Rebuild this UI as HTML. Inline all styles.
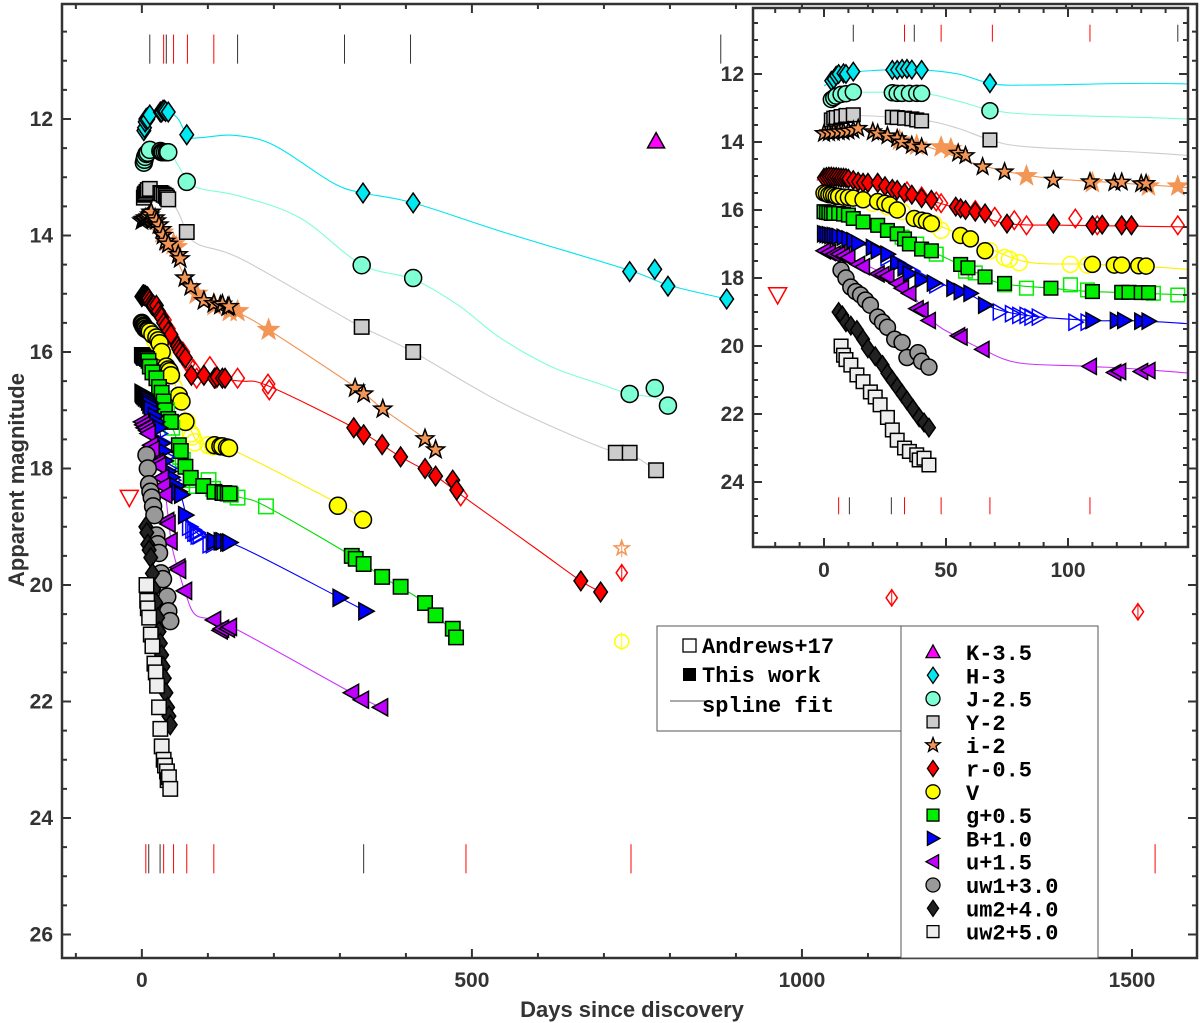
<!DOCTYPE html>
<html><head><meta charset="utf-8"><style>
html,body{margin:0;padding:0;background:#fff;width:1200px;height:1023px;overflow:hidden}
svg{display:block;font-family:"Liberation Sans",Arial,sans-serif}
.tl{font-size:21px;font-weight:bold;fill:#333}
.lg{font-family:"Liberation Mono",monospace;font-size:22px;font-weight:bold;fill:#000}
</style></head><body>
<svg id="chart" width="1200" height="1023" viewBox="0 0 1200 1023" xmlns="http://www.w3.org/2000/svg">
<rect width="1200" height="1023" fill="#fff"/>
<g id="main"></g>
<g id="inset"></g>
<g id="legends"></g>
<text transform="translate(24,480) rotate(-90)" text-anchor="middle" font-size="22" font-weight="bold" fill="#333">Apparent magnitude</text>
<text x="632" y="1017" text-anchor="middle" font-size="22" font-weight="bold" fill="#333">Days since discovery</text>
</svg>
<script>
// ---- data ----
const bandNames=["K","H","J","Y","i","r","V","g","B","u","uw1","um2","uw2"];
const legendLabels=["K-3.5","H-3","J-2.5","Y-2","i-2","r-0.5","V","g+0.5","B+1.0","u+1.5","uw1+3.0","um2+4.0","uw2+5.0"];
const K_days=[779]; const K_mags=[12.38];
const H_days=[3,4,5,6,8,9,12,28,30,32,34,36,40,68,335,411,739,777,797,886];
const H_mags=[12.2,12.15,12.05,12.0,11.98,12.0,11.93,11.88,11.88,11.85,11.85,11.87,11.88,12.27,13.27,13.44,14.62,14.58,14.87,15.09];
const J_days=[3,4,5,7,9,12,28,30,32,35,38,40,68,333,411,739,777,797];
const J_mags=[12.75,12.7,12.65,12.6,12.58,12.53,12.55,12.57,12.57,12.57,12.57,12.57,13.08,14.51,14.73,16.72,16.62,16.92];
const Y_days=[3,4,5,7,9,12,28,30,33,36,38,40,68,333,411,718,739,779];
const Y_mags=[13.35,13.3,13.28,13.25,13.22,13.2,13.27,13.28,13.3,13.32,13.35,13.38,13.94,15.57,16.0,17.73,17.73,18.03];
const i_days=[0,2,4,6,8,10,12,14,20,22,26,30,32,36,40,55,58,65,74,94,109,119,122,130,132,323,336,365,429,445];
const i_mags=[13.75,13.73,13.72,13.7,13.7,13.68,13.65,13.6,13.7,13.75,13.82,13.9,14.0,14.1,14.15,14.33,14.4,14.73,14.88,15.12,15.17,15.2,15.18,15.23,15.22,16.62,16.72,16.98,17.49,17.68];
const i_andDays=[31,38,48,52,83,110,133,145,192];
const i_andMags=[13.95,14.1,14.15,14.2,15.0,15.2,15.3,15.3,15.62];
const r_days=[0,1,2,3,4,5,6,7,8,9,10,12,14,16,18,22,25,28,30,33,36,40,44,54,56,58,62,66,75,94,110,114,122,126,321,336,364,392,429,445,471,477,665,695];
const r_mags=[15.05,15.03,15.02,15.02,15.03,15.03,15.04,15.05,15.05,15.06,15.08,15.12,15.17,15.2,15.2,15.2,15.3,15.38,15.41,15.5,15.55,15.65,15.7,15.9,15.95,16.0,16.05,16.1,16.4,16.4,16.45,16.43,16.45,16.45,17.3,17.42,17.59,17.8,18.0,18.13,18.2,18.37,19.93,20.12];
const r_andDays=[34,40,46,48,62,70,78,83,103,112,145,191,193,483];
const r_andMags=[15.45,15.6,15.75,15.8,16.0,16.2,16.3,16.45,16.25,16.45,16.45,16.55,16.65,18.47];
const V_days=[0,1,2,3,4,5,6,8,10,12,16,22,25,27,30,37,40,42,44,56,60,66,110,119,122,129,132,297,335];
const V_mags=[15.5,15.52,15.55,15.55,15.57,15.6,15.6,15.62,15.63,15.65,15.7,15.75,15.8,15.85,16.0,16.25,16.3,16.33,16.4,16.75,16.85,17.2,17.6,17.62,17.62,17.64,17.65,18.64,18.88];
const V_andDays=[20,26,32,45,48,68,74,76,80,101,108];
const V_andMags=[15.8,15.9,16.05,16.4,16.6,17.2,17.4,17.45,17.55,17.6,17.62];
const g_days=[0,1,2,3,4,6,8,10,12,16,22,26,30,33,35,40,44,56,59,66,74,93,110,122,125,130,133,318,324,336,364,392,429,445,471,476];
const g_mags=[16.05,16.07,16.08,16.1,16.1,16.1,16.12,16.15,16.25,16.35,16.45,16.6,16.7,16.85,17.0,17.15,17.2,17.6,17.7,17.97,18.16,18.3,18.4,18.42,18.42,18.43,18.43,19.5,19.55,19.64,19.86,20.03,20.31,20.52,20.75,20.9];
const g_andDays=[32,38,46,58,62,74,83,101,108,135,145,188];
const g_andMags=[16.8,17.0,17.3,17.8,17.85,18.2,18.3,18.2,18.35,18.45,18.5,18.65];
const B_days=[0,1,2,3,4,5,6,8,10,12,14,20,22,26,30,33,35,40,45,53,56,60,66,110,120,123,130,133,300,339];
const B_mags=[16.7,16.72,16.73,16.75,16.75,16.77,16.78,16.8,16.85,16.9,16.98,17.1,17.2,17.3,17.57,17.7,17.87,18.05,18.15,18.3,18.4,18.45,18.8,19.25,19.25,19.25,19.27,19.27,20.22,20.45];
const B_andDays=[26,30,36,40,46,72,77,80,83,85,88,103,108];
const B_andMags=[17.4,17.55,17.8,18.0,18.2,19.0,19.05,19.1,19.1,19.15,19.15,19.3,19.3];
const u_days=[0,2,4,6,8,10,14,16,22,24,26,30,32,35,38,40,43,55,56,65,109,119,121,130,133,318,333,362];
const u_mags=[17.2,17.25,17.3,17.3,17.35,17.4,17.6,17.67,17.88,17.9,17.95,18.16,18.3,18.45,18.9,18.95,19.25,19.7,19.74,20.1,20.6,20.78,20.75,20.75,20.72,21.85,21.97,22.1];
const uw1_days=[7,9,11,13,15,17,19,22,24,26,29,32,34,38.5,40,43];
const uw1_mags=[17.77,18.0,18.27,18.4,18.5,18.65,18.8,19.15,19.3,19.45,19.8,19.9,20.34,20.2,20.45,20.62];
const um2_days=[6,7.5,9,11,13.5,16,18,21,24,26,28,30,32,34,36.5,39,41,43];
const um2_mags=[19.0,19.1,19.3,19.4,19.53,19.8,20.07,20.3,20.56,20.8,21.0,21.2,21.4,21.6,21.85,22.1,22.25,22.4];
const uw2_days=[7,8,9,11,13.5,16,19,21,23,26,28,30,33,35,38,39,41,43];
const uw2_mags=[20.0,20.27,20.4,20.56,20.85,21.05,21.35,21.5,21.73,22.1,22.47,22.77,23.0,23.1,23.2,23.35,23.3,23.5];
// spline fit knots
const H_splD=[0,10,20,40,55,70,90,140,200,290,335,411,550,739,797,886];
const H_splM=[12.35,12.0,11.9,11.88,12.0,12.3,12.32,12.28,12.45,13.1,13.27,13.44,13.95,14.6,14.85,15.09];
const J_splD=[0,12,40,55,70,90,150,240,333,411,480,542,620,694,739,777,797];
const J_splM=[12.7,12.55,12.57,12.8,13.08,13.2,13.33,13.7,14.5,14.75,15.2,15.75,16.25,16.55,16.72,16.78,16.92];
const Y_splD=[0,12,40,55,68,85,150,290,333,411,550,694,739,779];
const Y_splM=[13.35,13.22,13.35,13.6,13.93,14.15,14.4,15.3,15.57,16.0,16.9,17.63,17.75,18.03];
const i_splD=[0,14,30,45,65,90,120,150,192,323,365,429,445];
const i_splM=[13.75,13.6,13.9,14.2,14.7,15.05,15.2,15.35,15.62,16.6,16.98,17.49,17.68];
const r_splD=[-3,5,15,30,45,60,75,100,150,191,321,392,445,483,600,665,695];
const r_splM=[15.12,15.03,15.15,15.4,15.75,16.05,16.4,16.45,16.5,16.58,17.3,17.8,18.13,18.45,19.4,19.93,20.12];
const V_splD=[0,12,25,35,45,60,70,85,110,150,297,335];
const V_splM=[15.55,15.65,15.85,16.15,16.4,16.85,17.2,17.55,17.6,17.75,18.6,18.88];
const g_splD=[0,12,25,35,45,60,72,93,110,150,188,318,364,429,476];
const g_splM=[16.1,16.25,16.5,17.0,17.25,17.75,18.15,18.3,18.4,18.5,18.65,19.5,19.86,20.31,20.9];
const B_splD=[0,14,25,35,45,60,70,85,110,150,300,339];
const B_splM=[16.75,16.98,17.25,17.85,18.1,18.5,18.9,19.12,19.25,19.35,20.22,20.45];
const u_splD=[0,10,25,35,45,55,65,80,109,150,318,362];
const u_splM=[17.2,17.4,17.9,18.4,19.3,19.74,20.1,20.5,20.6,20.8,21.85,22.1];
// late open detections, upper limit
const lateBands=["i","r","r","r","V"];
const lateDays=[727,727,1136,1509,727];
const lateMags=[19.37,19.79,20.22,20.46,20.97];
const limitDays=[-19]; const limitMags=[18.5];
// spectral epochs
const specTopDays=[12,33,37,48,69,109,145,307,407,877];
const specTopColors=["k","r","k","r","r","r","k","k","k","k"];
const specBotDays=[6,10.4,27.6,33,48,68,109,336,491,741,1154,1535];
const specBotColors=["r","k","k","r","r","r","r","k","r","r","r","r"];
// ticks
const mainXTicks=[0,500,1000,1500];
const mainYTicks=[12,14,16,18,20,22,24,26];
const insetXTicks=[0,50,100];
const insetYTicks=[12,14,16,18,20,22,24];

// ---- style ----
const S={
 K:{sym:"tu",fill:"#ff00ff",line:null},
 H:{sym:"d",fill:"#00e8f0",line:"#00e5ee"},
 J:{sym:"c",fill:"#7fffd4",line:"#7fffd4"},
 Y:{sym:"s",fill:"#cccccc",line:"#cccccc"},
 i:{sym:"star",fill:"#f39555",line:"#f39555"},
 r:{sym:"d",fill:"#ff0000",line:"#ff0000"},
 V:{sym:"c",fill:"#ffff00",line:"#ffee00"},
 g:{sym:"s",fill:"#00ee00",line:"#00dd00"},
 B:{sym:"tr",fill:"#0000ff",line:"#0000ff"},
 u:{sym:"tl",fill:"#bf00ff",line:"#cc33ff"},
 uw1:{sym:"c",fill:"#999999",line:null},
 um2:{sym:"d",fill:"#222222",line:null},
 uw2:{sym:"s",fill:"#eeeeee",line:null}
};
const DATA={K:[K_days,K_mags],H:[H_days,H_mags],J:[J_days,J_mags],Y:[Y_days,Y_mags],i:[i_days,i_mags],r:[r_days,r_mags],V:[V_days,V_mags],g:[g_days,g_mags],B:[B_days,B_mags],u:[u_days,u_mags],uw1:[uw1_days,uw1_mags],um2:[um2_days,um2_mags],uw2:[uw2_days,uw2_mags]};
const AND={i:[i_andDays,i_andMags],r:[r_andDays,r_andMags],V:[V_andDays,V_andMags],g:[g_andDays,g_andMags],B:[B_andDays,B_andMags]};
const SPL={H:[H_splD,H_splM],J:[J_splD,J_splM],Y:[Y_splD,Y_splM],i:[i_splD,i_splM],r:[r_splD,r_splM],V:[V_splD,V_splM],g:[g_splD,g_splM],B:[B_splD,B_splM],u:[u_splD,u_splM]};
const NS="http://www.w3.org/2000/svg";
function mk(tag,attrs,parent){const e=document.createElementNS(NS,tag);for(const k in attrs)e.setAttribute(k,attrs[k]);if(parent)parent.appendChild(e);return e;}

function symPath(sym,x,y,s){
 if(sym==="d")return `M${x},${y-s*1.15}L${x+s*0.8},${y}L${x},${y+s*1.15}L${x-s*0.8},${y}Z`;
 if(sym==="s")return `M${x-s*0.85},${y-s*0.85}h${s*1.7}v${s*1.7}h${-s*1.7}Z`;
 if(sym==="tu")return `M${x},${y-s}L${x+s},${y+s*0.8}L${x-s},${y+s*0.8}Z`;
 if(sym==="td")return `M${x},${y+s}L${x+s},${y-s*0.8}L${x-s},${y-s*0.8}Z`;
 if(sym==="tr")return `M${x+s},${y}L${x-s*0.8},${y-s}L${x-s*0.8},${y+s}Z`;
 if(sym==="tl")return `M${x-s},${y}L${x+s*0.8},${y-s}L${x+s*0.8},${y+s}Z`;
 if(sym==="star"){let p="";for(let k=0;k<10;k++){const a=-Math.PI/2+k*Math.PI/5;const r=k%2?s*0.45:s*1.1;p+=(k?"L":"M")+(x+r*Math.cos(a)).toFixed(1)+","+(y+r*Math.sin(a)).toFixed(1);}return p+"Z";}
 return "";
}
function drawSym(g,sym,x,y,s,fill,stroke,sw){
 if(sym==="c")return mk("circle",{cx:x,cy:y,r:s,fill:fill,stroke:stroke,"stroke-width":sw},g);
 return mk("path",{d:symPath(sym,x,y,s),fill:fill,stroke:stroke,"stroke-width":sw,"stroke-linejoin":"miter"},g);
}
function smooth(pts){
 if(pts.length<2)return "";
 let d=`M${pts[0][0].toFixed(1)},${pts[0][1].toFixed(1)}`;
 for(let k=0;k<pts.length-1;k++){
  const p0=pts[k-1]||pts[k],p1=pts[k],p2=pts[k+1],p3=pts[k+2]||p2;
  const c1=[p1[0]+(p2[0]-p0[0])/6,p1[1]+(p2[1]-p0[1])/6],c2=[p2[0]-(p3[0]-p1[0])/6,p2[1]-(p3[1]-p1[1])/6];
  d+=`C${c1[0].toFixed(1)},${c1[1].toFixed(1)} ${c2[0].toFixed(1)},${c2[1].toFixed(1)} ${p2[0].toFixed(1)},${p2[1].toFixed(1)}`;
 }
 return d;
}

function panel(root,P,id){
 const X=d=>P.x0+(d-P.d0)/(P.d1-P.d0)*(P.x1-P.x0);
 const Y=m=>P.y0+(m-P.m0)/(P.m1-P.m0)*(P.y1-P.y0);
 mk("rect",{x:P.x0,y:P.y0,width:P.x1-P.x0,height:P.y1-P.y0,fill:"#fff"},root);
 const cp=mk("clipPath",{id:id+"clip"},root);mk("rect",{x:P.x0,y:P.y0,width:P.x1-P.x0,height:P.y1-P.y0},cp);
 const g=mk("g",{"clip-path":`url(#${id}clip)`},root);
 specTopDays.forEach((d,k)=>{const l=mk("line",{x1:X(d),x2:X(d),y1:Y(10.55),y2:Y(11.05),stroke:specTopColors[k]==="r"?"#ff0000":"#333","stroke-width":1},g);
  
  });
 specBotDays.forEach((d,k)=>{const l=mk("line",{x1:X(d),x2:X(d),y1:Y(24.45),y2:Y(24.95),stroke:specBotColors[k]==="r"?"#ff0000":"#333","stroke-width":1},g);
  
  });
 for(const b in SPL){const [D,M]=SPL[b];const pth=mk("path",{d:smooth(D.map((d,k)=>[X(d),Y(M[k])])),fill:"none",stroke:S[b].line,"stroke-width":1.1},g);
  
  }
 const sz=P.sz;
 limitDays.forEach((d,k)=>{const e=drawSym(g,"td",X(d),Y(limitMags[k]),9,"none","#ff0000",1.5);
  
  });
 lateDays.forEach((d,k)=>{const b=lateBands[k];const x=X(d),y=Y(lateMags[k]);
  const e=drawSym(g,S[b].sym,x,y,7,"none",S[b].fill,1.5);
  
  
  const eb=mk("line",{x1:x,x2:x,y1:y-9,y2:y+9,stroke:S[b].fill,"stroke-width":1},g);
  
  });
 bandNames.forEach(b=>{
  if(AND[b]){const [D,M]=AND[b];D.forEach((d,k)=>{
   let e;
   if(b==="i")e=drawSym(g,"star",X(d),Y(M[k]),sz+3,S[b].fill,"none",0);
   else e=drawSym(g,S[b].sym,X(d),Y(M[k]),sz,"none",S[b].fill,1.5);
   
   });}
  const [D,M]=DATA[b];D.forEach((d,k)=>{
   const e=drawSym(g,S[b].sym,X(d),Y(M[k]),sz,S[b].fill,"#000",1.5);
   
   });
 });
 const ax=mk("g",{},root);
 mk("rect",{x:P.x0,y:P.y0,width:P.x1-P.x0,height:P.y1-P.y0,fill:"none",stroke:"#333","stroke-width":2.5},ax);
 for(let d=Math.ceil(P.d0/P.minX)*P.minX;d<=P.d1;d+=P.minX){const x=X(d);const maj=P.xt.includes(d);const L=maj?9:5;
  mk("line",{x1:x,x2:x,y1:P.y1,y2:P.y1-L,stroke:"#333","stroke-width":2},ax);
  mk("line",{x1:x,x2:x,y1:P.y0,y2:P.y0+L,stroke:"#333","stroke-width":2},ax);}
 for(let m=Math.ceil(P.m0*2)/2;m<=P.m1;m+=0.5){const y=Y(m);const maj=P.yt.includes(m);const L=maj?9:5;
  mk("line",{x1:P.x0,x2:P.x0+L,y1:y,y2:y,stroke:"#333","stroke-width":2},ax);
  mk("line",{x1:P.x1,x2:P.x1-L,y1:y,y2:y,stroke:"#333","stroke-width":2},ax);}
 P.xt.forEach(d=>{const t=mk("text",{x:X(d),y:P.y1+P.xlab,"text-anchor":"middle",class:"tl"},ax);t.textContent=d;
  
  });
 P.yt.forEach(m=>{const t=mk("text",{x:P.x0-P.ylab,y:Y(m)+7,"text-anchor":"end",class:"tl"},ax);t.textContent=m;
  
  });
}
panel(document.getElementById("main"),{x0:62,x1:1197,y0:4,y1:958,d0:-121,d1:(1197-142)/0.66,m0:12-115/58.25,m1:12+839/58.25,minX:100,xt:mainXTicks,yt:mainYTicks,xlab:29,ylab:9,sz:8.5},"main");
panel(document.getElementById("inset"),{x0:753,x1:1188,y0:8,y1:547,d0:(753-824)/2.44,d1:(1188-824)/2.44,m0:12-66/34,m1:12+473/34,minX:10,xt:insetXTicks,yt:insetYTicks,xlab:30,ylab:9,sz:8},"inset");

// ---- legends ----
const LG=document.getElementById("legends");
const lb1=mk("rect",{x:657,y:626,width:244,height:105,fill:"#fff",stroke:"#555","stroke-width":1},LG);


const lb2=mk("rect",{x:901,y:626,width:197,height:332,fill:"#fff",stroke:"#555","stroke-width":1},LG);


mk("rect",{x:683,y:639,width:13,height:13,fill:"#fff",stroke:"#000","stroke-width":1.3},LG);
mk("rect",{x:683,y:668,width:13,height:13,fill:"#000"},LG);
mk("line",{x1:670,x2:705,y1:701,y2:701,stroke:"#555","stroke-width":1},LG);
[["Andrews+17",653],["This work",682],["spline fit",712]].forEach(([s,y])=>{const t=mk("text",{x:702,y:y,class:"lg"},LG);t.textContent=s;
 
 });
bandNames.forEach((b,k)=>{const y=652+k*23.3;
 const e=drawSym(LG,S[b].sym,933,y,7,S[b].fill,"#000",1.3);
 
 
 const t=mk("text",{x:966,y:y+8,class:"lg"},LG);t.textContent=legendLabels[k];
 
 });
</script>
</body></html>
